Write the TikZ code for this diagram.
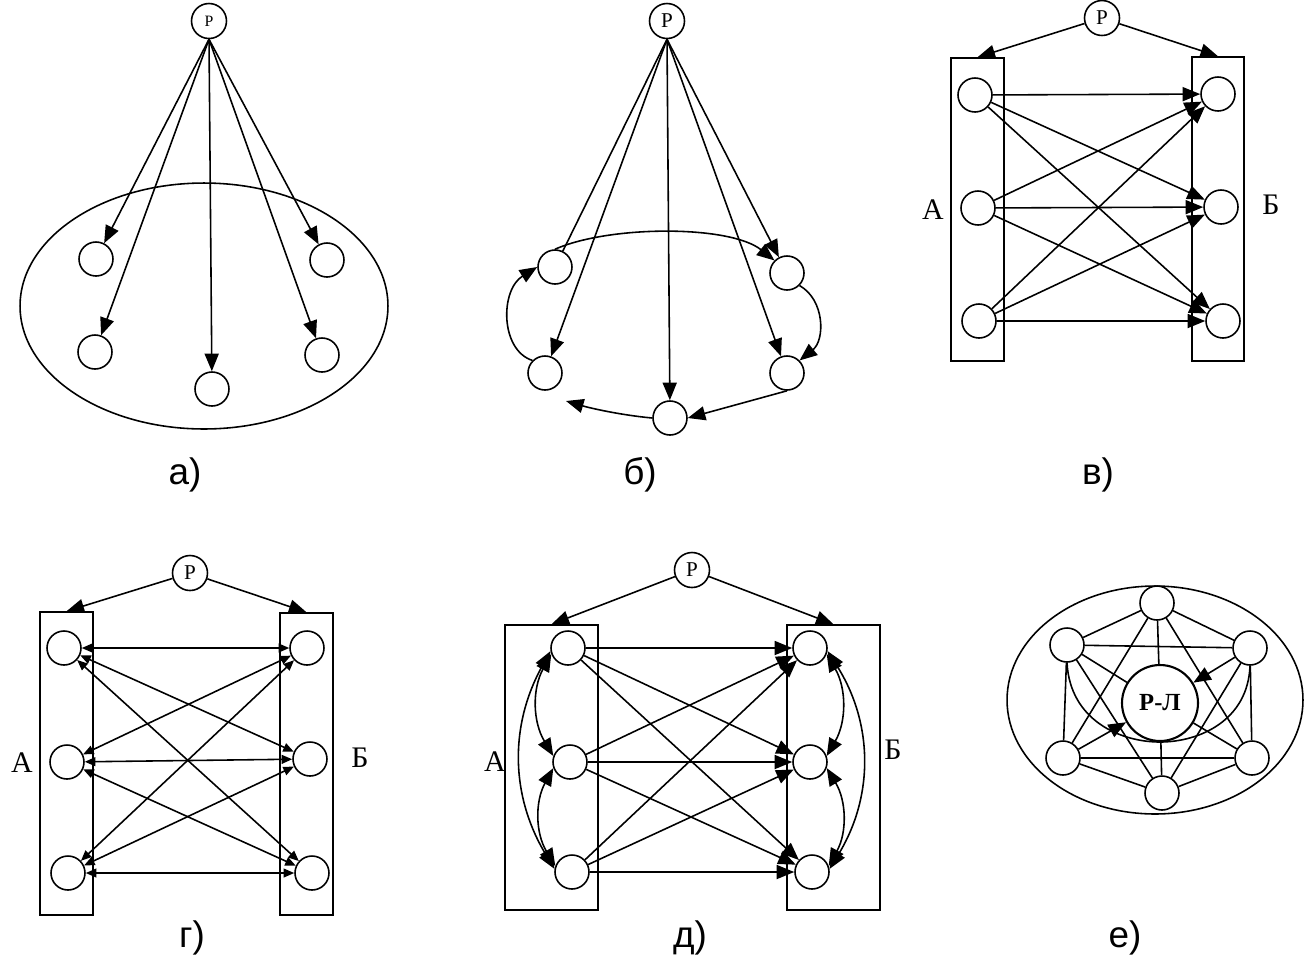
\documentclass[tikz,border=0pt]{standalone}
\usepackage{fontspec}
\setmainfont{Liberation Serif}
\newfontfamily\lsans{Liberation Sans}
\usetikzlibrary{arrows.meta}
\begin{document}
\begin{tikzpicture}[x=0.02cm,y=-0.02cm,
  nd/.style={circle,draw,line width=0.9pt,minimum size=0.68cm,inner sep=0pt,fill=white},
  pn/.style={circle,draw,line width=0.9pt,minimum size=0.70cm,inner sep=0pt,fill=white,font=\fontsize{12}{12}\selectfont},
  box/.style={draw,line width=0.9pt,inner sep=0pt},
  ln/.style={line width=0.9pt},
  arr/.style={line width=0.9pt,-{Triangle[length=10pt,width=8pt]}},
  arr2/.style={line width=0.9pt,{Triangle[length=10pt,width=8pt]}-{Triangle[length=10pt,width=8pt]}},
  sarr2/.style={line width=0.9pt,{Triangle[length=6pt,width=5pt]}-{Triangle[length=6pt,width=5pt]}},
  lab/.style={font=\lsans\fontsize{21}{25}\selectfont},
  side/.style={font=\fontsize{17}{20}\selectfont}]
\useasboundingbox (0,0) rectangle (1308,958);

% ---------------- a)
\draw[ln] (204,306) ellipse [x radius=3.68cm, y radius=2.46cm];
\node[pn,font=\fontsize{9}{9}\selectfont] (aP) at (209,21) {Р};
\node[nd] (a1) at (96,259) {};
\node[nd] (a2) at (327,260) {};
\node[nd] (a3) at (95,352) {};
\node[nd] (a4) at (212,389) {};
\node[nd] (a5) at (322,355) {};
\foreach \n in {a1,a2,a3,a4,a5} \draw[arr] (aP.south) -- (\n);
\node[lab] (la) at (185,475) {а)};

% ---------------- б)
\node[pn] (bP) at (667,21) {Р};
\node[nd] (b1) at (555,267) {};
\node[nd] (b2) at (787,273) {};
\node[nd] (b3) at (545,373) {};
\node[nd] (b4) at (787,373) {};
\node[nd] (b5) at (670,418) {};
\draw[ln] (bP.south) -- (b1);
\foreach \n in {b2,b3,b4,b5} \draw[arr] (bP.south) -- (\n);
\draw[arr] (b1.north) .. controls (610,225) and (730,225) .. (b2.north west);
\draw[arr] (b2.south east) .. controls (825,300) and (825,340) .. (b4.north east);
\draw[arr] (b4.south) -- (b5.east);
\coordinate (b3e) at (566,401);
\draw[arr] (b5.west) .. controls (620,415) and (590,408) .. (b3e);
\draw[arr] (b3.north west) .. controls (500,350) and (500,290) .. (b1.west);
\node[lab] (lb) at (640,475) {б)};

% ---------------- в)
\node[box,minimum width=1.06cm,minimum height=6.06cm] (vRA) at (977.5,209.5) {};
\node[box,minimum width=1.04cm,minimum height=6.08cm] (vRB) at (1218,209) {};
\node[pn] (vP) at (1102,18) {Р};
\node[nd] (vA1) at (975,95) {};
\node[nd] (vA2) at (978,208) {};
\node[nd] (vA3) at (979,321) {};
\node[nd] (vB1) at (1218,94) {};
\node[nd] (vB2) at (1221,207) {};
\node[nd] (vB3) at (1223,321) {};
\draw[arr] (vP) -- (vRA.north);
\draw[arr] (vP) -- (vRB.north);
\foreach \i in {1,2,3} \foreach \j in {1,2,3} \draw[arr] (vA\i) -- (vB\j);
\node[side] (vLA) at (933,210) {А};
\node[side] (vLB) at (1271,205) {Б};
\node[lab] (lv) at (1098,475) {в)};

% ---------------- г)
\node[box,minimum width=1.06cm,minimum height=6.06cm] (gRA) at (66.5,763.5) {};
\node[box,minimum width=1.06cm,minimum height=6.04cm] (gRB) at (306.5,764) {};
\node[pn] (gP) at (190,573) {Р};
\node[nd] (gA1) at (64,648) {};
\node[nd] (gA2) at (67,762) {};
\node[nd] (gA3) at (68,873) {};
\node[nd] (gB1) at (307,648) {};
\node[nd] (gB2) at (310,759) {};
\node[nd] (gB3) at (312,873) {};
\draw[arr] (gP) -- (gRA.north);
\draw[arr] (gP) -- (gRB.north);
\foreach \i in {1,2,3} \foreach \j in {1,2,3} \draw[sarr2] (gA\i) -- (gB\j);
\node[side] (gLA) at (22,763) {А};
\node[side] (gLB) at (360,758) {Б};
\node[lab] (lg) at (192,938) {г)};

% ---------------- д)
\node[box,minimum width=1.86cm,minimum height=5.7cm] (dRA) at (551.5,767.5) {};
\node[box,minimum width=1.86cm,minimum height=5.7cm] (dRB) at (833.5,767.5) {};
\node[pn] (dP) at (692,570) {Р};
\node[nd] (dA1) at (568,648) {};
\node[nd] (dA2) at (570,762) {};
\node[nd] (dA3) at (572,872) {};
\node[nd] (dB1) at (810,648) {};
\node[nd] (dB2) at (810,762) {};
\node[nd] (dB3) at (812,872) {};
\draw[arr] (dP) -- (dRA.north);
\draw[arr] (dP) -- (dRB.north);
\foreach \i in {1,2,3} \foreach \j in {1,2,3} \draw[arr] (dA\i) -- (dB\j);
\draw[arr2] (dA1.200) to[bend right=30] (dA2.160);
\draw[arr2] (dA2.200) to[bend right=30] (dA3.160);
\draw[arr2] (dA1.190) to[bend right=30] (dA3.170);
\draw[arr2] (dB1.-20) to[bend left=30] (dB2.20);
\draw[arr2] (dB2.-20) to[bend left=30] (dB3.20);
\draw[arr2] (dB1.-10) to[bend left=32] (dB3.10);
\node[side] (dLA) at (495,762) {А};
\node[side] (dLB) at (893,750) {Б};
\node[lab] (ld) at (690,938) {д)};

% ---------------- е)
\draw[ln] (1155,700) ellipse [x radius=2.96cm, y radius=2.28cm];
\node[nd] (eT) at (1157,603) {};
\node[nd] (eUL) at (1067,645) {};
\node[nd] (eUR) at (1250,648) {};
\node[nd] (eLL) at (1063,758) {};
\node[nd] (eLR) at (1252,758) {};
\node[nd] (eB) at (1162,793) {};
\node[circle,draw,line width=1.2pt,minimum size=1.52cm,inner sep=0pt,
      font=\bfseries\fontsize{14}{14}\selectfont] (eC) at (1160,703) {Р-Л};
\draw[ln] (eT) -- (eUL);
\draw[ln] (eT) -- (eUR);
\draw[ln] (eUL) -- (eLL);
\draw[ln] (eUR) -- (eLR);
\draw[ln] (eLL) -- (eB);
\draw[ln] (eLR) -- (eB);
\draw[ln] (eUL) -- (eUR);
\draw[ln] (eLL) -- (eLR);
\draw[ln] (eT) -- (eLL);
\draw[ln] (eT) -- (eLR);
\draw[ln] (eB) -- (eUL);
\draw[ln] (eB) -- (eUR);
\draw[ln] (eT) -- (eC);
\draw[ln] (eB) -- (eC);
\draw[ln] (eUL) -- (eC);
\draw[ln] (eLR) -- (eC);
\draw[arr] (eUR) -- (eC);
\draw[arr] (eLL) -- (eC);
\draw[ln] (eUL.south) .. controls (1070,720) and (1120,742) .. (1160,742)
   .. controls (1200,742) and (1248,720) .. (eUR.south);
\node[lab] (le) at (1125,938) {е)};
\end{tikzpicture}
\end{document}
